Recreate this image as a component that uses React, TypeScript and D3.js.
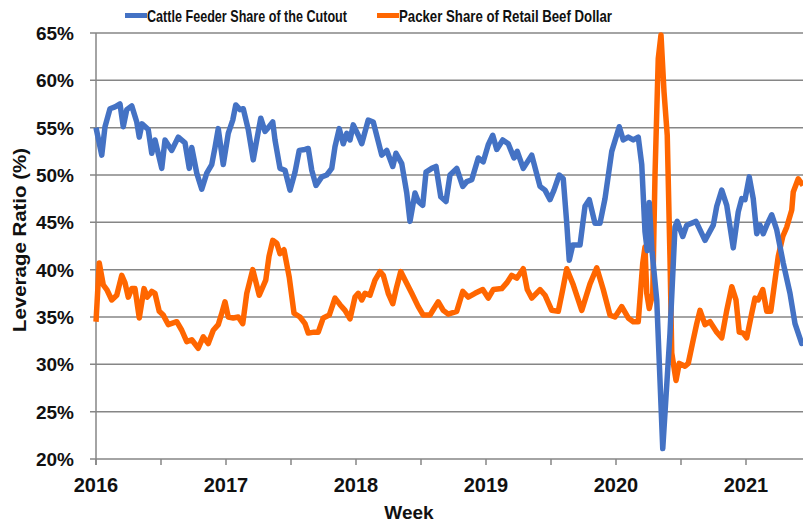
import React from 'react';
import * as d3 from 'd3';

// weeks counted from the first week of 2016
const cattleWeeks = [
  0, 2.3, 3.6, 5.6, 7.6, 9.6, 10.9, 12.3, 14.3, 16.3, 17.3, 18.4, 20.9, 22.3, 23.6, 26.3, 27.6, 30.3, 32.9, 35.6,
  37.3, 38.3, 40.3, 42.3, 44.3, 46.3, 47.6, 48.9, 50.9, 52.9, 54.7, 55.9, 57.6, 58.9, 60.9, 62.9, 64.3, 65.9, 67.6, 68.9,
  70.7, 71.6, 73.6, 75.6, 77.6, 79.6, 81.3, 83.6, 84.9, 86.3, 88, 90.3, 92.3, 94.3, 95.6, 97.3, 98.9, 100.3, 101.6, 102.9,
  104.9, 106.3, 108.9, 110.9, 114.3, 116.3, 118.7, 120, 122.3, 124.3, 125.6, 127.6, 128.9, 130.7, 132, 134.3, 136, 137.9, 140, 141.6,
  144.3, 146.7, 148.3, 150.3, 152.9, 154.9, 156.9, 158.7, 160.3, 162.7, 164.9, 167.2, 168.5, 170.9, 174.3, 177.6, 179.6, 181.6, 183.2, 185.3,
  186.9, 188.3, 189.3, 190.7, 193.6, 195.6, 197.3, 199.6, 201.6, 203.6, 206.3, 209.3, 210.9, 212.9, 214.9, 216.9, 218.3, 219.6, 220.5, 221.3,
  222.4, 224.3, 226.7, 229.6, 231.6, 232.5, 234.7, 236.3, 240, 243.6, 246.9, 248.3, 250.3, 252.3, 254.9, 256.9, 258.3, 259.6, 261.3, 262.9,
  264.3, 265.6, 266.9, 268.3, 270.3, 272.3, 274.9, 277.6, 279.6, 282.3, 282.8,
];
const cattleShare = [
  55.0, 52.1, 55.1, 57.0, 57.2, 57.5, 55.1, 56.9, 57.3, 55.6, 54.0, 55.4, 54.8, 52.3, 53.7, 50.7, 53.7, 52.6, 54.0, 53.4,
  50.7, 52.9, 50.2, 48.5, 50.2, 51.1, 52.9, 54.9, 51.1, 54.4, 55.8, 57.4, 56.9, 57.0, 54.8, 51.6, 53.7, 56.0, 54.6, 55.0,
  55.6, 53.7, 50.7, 50.5, 48.4, 50.3, 52.6, 52.7, 52.8, 50.5, 48.9, 49.8, 50.0, 50.7, 53.0, 54.9, 53.3, 54.4, 53.7, 55.3,
  54.2, 53.3, 55.8, 55.6, 52.1, 52.6, 50.9, 52.3, 51.2, 48.1, 45.1, 48.1, 47.2, 46.8, 50.3, 50.7, 50.9, 47.7, 47.2, 50.0,
  50.7, 48.8, 49.3, 49.5, 51.8, 51.4, 53.2, 54.2, 52.7, 53.7, 53.3, 51.8, 52.5, 50.7, 52.1, 48.8, 48.4, 47.4, 48.4, 50.0,
  49.6, 44.9, 41.0, 42.6, 42.6, 46.7, 47.4, 44.9, 44.9, 47.5, 52.5, 55.1, 53.7, 54.0, 53.7, 54.0, 51.1, 44.0, 42.0, 47.1,
  42.0, 36.8, 21.1, 33.3, 44.5, 45.1, 43.5, 44.7, 45.1, 43.1, 44.7, 46.7, 48.4, 46.8, 42.3, 46.1, 47.5, 47.4, 49.8, 47.5,
  43.8, 44.7, 43.8, 44.7, 45.8, 44.2, 40.7, 37.5, 34.3, 32.2, 32.3,
];

const packerWeeks = [
  0, 1.3, 2.9, 4.3, 6.3, 8.3, 10.3, 11.6, 12.9, 14.3, 15.6, 17.3, 19.2, 20.5, 22.3, 23.6, 25.3, 26.9, 28.9, 32.3,
  34.3, 36.3, 38.3, 40.9, 42.9, 44.9, 46.9, 48.9, 50.3, 51.6, 52.9, 54.9, 56.9, 58.7, 60.3, 62.7, 65.3, 67.9, 69.2, 70.7,
  72.3, 73.6, 75.2, 77.3, 79.2, 81.6, 83.6, 84.9, 87.2, 88.9, 90.9, 93.3, 95.6, 97.6, 99.6, 101.6, 103.6, 104.9, 106.3, 107.6,
  109.6, 111.6, 113.6, 114.9, 116.9, 118.7, 120.3, 121.9, 123.6, 126.3, 128.9, 130.9, 133.6, 135.2, 136.9, 138.9, 140.9, 144.3, 146.7, 148.9,
  151.6, 154.7, 156.9, 158.9, 162.3, 164.3, 166.3, 168.3, 170.9, 172.5, 174.3, 177.6, 179.6, 182.3, 184.9, 186.7, 188.3, 190.9, 194.3, 197.6,
  200.3, 202.9, 205.6, 207.6, 210.3, 212.9, 214.9, 216.9, 218.7, 219.6, 220.3, 221.3, 222.7, 223.6, 224.9, 226, 227.2, 228.5, 229.6, 230.3,
  232, 233.3, 235.6, 236.9, 238.9, 240.3, 241.6, 243.6, 245.6, 248.3, 250.3, 252.3, 254.3, 256, 257.3, 258.9, 260.3, 262.3, 263.6, 264.9,
  266.7, 268.3, 269.9, 271.6, 272.9, 274.7, 276.3, 278.3, 278.9, 280.9, 282.8,
];
const packerShare = [
  34.5, 40.7, 38.4, 37.9, 36.8, 37.3, 39.4, 38.6, 37.1, 38.0, 38.0, 34.9, 38.0, 37.1, 37.7, 37.5, 35.6, 35.2, 34.2, 34.5,
  33.6, 32.4, 32.6, 31.7, 32.9, 32.2, 33.6, 34.2, 35.4, 36.6, 35.0, 34.9, 35.0, 34.3, 37.5, 40.0, 37.3, 38.9, 41.4, 43.1,
  42.8, 41.7, 42.1, 39.2, 35.4, 35.0, 34.3, 33.3, 33.4, 33.4, 34.9, 35.2, 37.0, 36.3, 35.7, 34.8, 37.1, 37.5, 36.8, 37.5,
  37.3, 38.9, 39.8, 39.4, 37.5, 36.4, 38.2, 39.8, 38.9, 37.5, 36.1, 35.2, 35.2, 35.9, 36.6, 35.7, 35.3, 35.6, 37.7, 37.1,
  37.5, 37.9, 37.0, 37.9, 38.0, 38.6, 39.4, 39.1, 40.1, 37.9, 37.0, 37.9, 37.3, 35.7, 35.6, 37.9, 40.1, 38.4, 35.7, 38.5,
  40.2, 37.9, 35.2, 35.0, 36.1, 34.9, 34.5, 34.5, 40.7, 42.4, 37.5, 35.9, 37.5, 50.0, 62.3, 64.8, 58.8, 54.2, 41.2, 31.2,
  28.3, 30.1, 29.8, 30.1, 32.6, 34.3, 35.7, 34.2, 34.5, 33.4, 32.8, 35.7, 38.2, 36.8, 33.4, 33.3, 32.8, 35.4, 37.0, 36.8,
  37.9, 35.6, 35.6, 38.9, 41.4, 43.5, 44.5, 46.3, 48.2, 49.6, 48.9,
];

const yearLabels = ['2016', '2017', '2018', '2019', '2020', '2021'];
const yTicks = [20, 25, 30, 35, 40, 45, 50, 55, 60, 65];

const W = 803;
const H = 525;
const BLUE = '#4472C4';
const ORANGE = '#FF6600';
const GRID = '#868686';
const FONT = '"Liberation Sans", Arial, sans-serif';

export default function App() {
  const left = 96;
  const right = 803;
  const top = 33;
  const bottom = 459;

  const x = d3.scaleLinear().domain([0, 282.8]).range([left, right]);
  const y = d3.scaleLinear().domain([20, 65]).range([bottom, top]);

  const cattleLine = d3.line<number>()
    .x((_, i) => x(cattleWeeks[i]))
    .y((d) => y(d))
    .curve(d3.curveLinear);
  const packerLine = d3.line<number>()
    .x((_, i) => x(packerWeeks[i]))
    .y((d) => y(d))
    .curve(d3.curveLinear);

  const halfYears = d3.range(0, 283, 26);

  return (
    <svg width={W} height={H} style={{ position: 'absolute', left: 0, top: 0, background: '#fff' }}>
      {/* gridlines */}
      {yTicks.map((t) => (
        <line key={t} x1={left - 6} x2={right} y1={y(t)} y2={y(t)} stroke={GRID} strokeWidth={1.5} />
      ))}
      <line x1={left} x2={left} y1={top} y2={bottom + 6} stroke={GRID} strokeWidth={1.5} />
      {halfYears.map((w) => (
        <line key={w} x1={x(w)} x2={x(w)} y1={bottom} y2={bottom + 6} stroke={GRID} strokeWidth={1.5} />
      ))}

      {/* y tick labels */}
      {yTicks.map((t) => (
        <text key={t} x={74} y={y(t) + 7} textAnchor="end" fontFamily={FONT} fontWeight="bold" fontSize={19} fill="#111">
          {t}%
        </text>
      ))}
      {/* x tick labels */}
      {yearLabels.map((lab, i) => (
        <text key={lab} x={x(i * 52)} y={492} textAnchor="middle" fontFamily={FONT} fontWeight="bold" fontSize={20} fill="#111">
          {lab}
        </text>
      ))}

      <text x={409} y={519} textAnchor="middle" fontFamily={FONT} fontWeight="bold" fontSize={19} fill="#111">
        Week
      </text>
      <text
        transform="translate(26,240) rotate(-90)"
        textAnchor="middle"
        fontFamily={FONT}
        fontWeight="bold"
        fontSize={19}
        fill="#111"
        textLength={184}
        lengthAdjust="spacingAndGlyphs"
      >
        Leverage Ratio (%)
      </text>

      {/* series */}
      <path d={packerLine(packerShare) || ''} fill="none" stroke={ORANGE} strokeWidth={5.5} strokeLinejoin="round" />
      <path d={cattleLine(cattleShare) || ''} fill="none" stroke={BLUE} strokeWidth={5.5} strokeLinejoin="round" />

      {/* legend */}
      <line x1={125} x2={147} y1={15.5} y2={15.5} stroke={BLUE} strokeWidth={5} />
      <text x={147} y={22} fontFamily={FONT} fontWeight="bold" fontSize={17} fill="#111" textLength={200} lengthAdjust="spacingAndGlyphs">
        Cattle Feeder Share of the Cutout
      </text>
      <line x1={377} x2={399} y1={15.5} y2={15.5} stroke={ORANGE} strokeWidth={5} />
      <text x={399} y={22} fontFamily={FONT} fontWeight="bold" fontSize={17} fill="#111" textLength={213} lengthAdjust="spacingAndGlyphs">
        Packer Share of Retail Beef Dollar
      </text>
    </svg>
  );
}
